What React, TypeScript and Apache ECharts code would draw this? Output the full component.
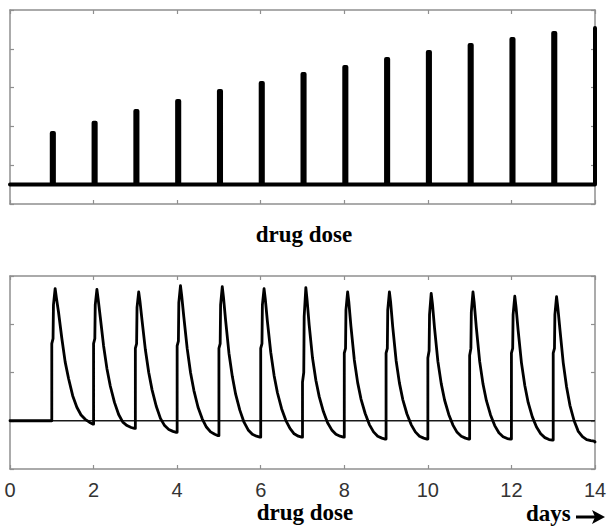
import React, { useEffect, useRef } from "react";
import * as echarts from "echarts";

// ---- data ----
const xTickLabels = ["0", "2", "4", "6", "8", "10", "12", "14"];
const spikeDays = [1, 2, 3, 4, 5, 6, 7, 8, 9, 10, 11, 12, 13, 14];
const spikeHeights = [3.66, 4.19, 4.79, 5.31, 5.82, 6.24, 6.7, 7.06, 7.47, 7.84, 8.2, 8.51, 8.81, 9.07];
const spikeBaseline = 1;

const doseDays = [1, 2, 3, 4, 5, 6, 7, 8, 9, 10, 11, 12, 13];
const cycleOffsets = [0, 0.03, 0.04, 0.08, 0.11, 0.16, 0.24, 0.32, 0.4, 0.5, 0.6, 0.7, 0.8, 0.9, 0.98];
const cycle1 = [1.6, 1.7, 2.4, 2.74, 2.55, 2.26, 1.71, 1.22, 0.88, 0.52, 0.28, 0.12, 0.03, -0.03, -0.07];
const cycle2 = [1.6, 1.7, 2.4, 2.72, 2.52, 2.15, 1.55, 1.08, 0.72, 0.38, 0.13, -0.03, -0.1, -0.14, -0.16];
const cycle3 = [1.5, 1.6, 2.35, 2.67, 2.48, 2.08, 1.47, 1.0, 0.64, 0.3, 0.05, -0.1, -0.18, -0.22, -0.24];
const cycle4 = [1.55, 1.65, 2.45, 2.8, 2.58, 2.15, 1.5, 1.0, 0.63, 0.28, 0.04, -0.13, -0.23, -0.28, -0.31];
const cycle5 = [1.5, 1.6, 2.4, 2.78, 2.55, 2.08, 1.4, 0.92, 0.55, 0.22, -0.03, -0.19, -0.28, -0.32, -0.34];
const cycle6 = [1.5, 1.6, 2.4, 2.74, 2.52, 2.06, 1.42, 0.94, 0.58, 0.25, 0.01, -0.16, -0.27, -0.32, -0.34];
const cycle7 = [0.8, 1.0, 2.16, 2.76, 2.5, 1.98, 1.3, 0.84, 0.5, 0.19, -0.04, -0.19, -0.28, -0.32, -0.34];
const cycle8 = [1.4, 1.5, 2.3, 2.67, 2.45, 1.95, 1.26, 0.79, 0.45, 0.15, -0.08, -0.23, -0.32, -0.36, -0.38];
const cycle9 = [1.4, 1.5, 2.3, 2.67, 2.45, 1.94, 1.25, 0.78, 0.44, 0.14, -0.08, -0.23, -0.32, -0.36, -0.38];
const cycle10 = [1.3, 1.45, 2.2, 2.64, 2.42, 1.92, 1.23, 0.77, 0.43, 0.13, -0.09, -0.24, -0.32, -0.36, -0.38];
const cycle11 = [1.35, 1.5, 2.25, 2.67, 2.44, 1.93, 1.23, 0.76, 0.42, 0.12, -0.1, -0.25, -0.33, -0.37, -0.38];
const cycle12 = [1.4, 1.5, 2.2, 2.58, 2.36, 1.88, 1.2, 0.73, 0.38, 0.08, -0.13, -0.27, -0.35, -0.39, -0.4];
const cycle13 = [1.4, 1.5, 2.2, 2.57, 2.35, 1.9, 1.2, 0.7, 0.32, 0.0, -0.22, -0.33, -0.39, -0.41, -0.42];
const cycles = [cycle1, cycle2, cycle3, cycle4, cycle5, cycle6, cycle7, cycle8, cycle9, cycle10, cycle11, cycle12, cycle13];
const curveStart = 0;
const curveEnd = -0.44;

function buildSpikes() {
  const w = 0.05;
  const pts: number[][] = [[0, spikeBaseline]];
  spikeDays.forEach((d, i) => {
    const h = spikeHeights[i];
    pts.push([d, spikeBaseline], [d, h]);
    if (d < 14) {
      pts.push([d + w, h], [d + w, spikeBaseline]);
    }
  });
  return pts;
}

function buildCurve() {
  const pts: number[][] = [[0, curveStart]];
  let last = curveStart;
  doseDays.forEach((d, i) => {
    pts.push([d, last]);
    const vals = cycles[i];
    cycleOffsets.forEach((o, j) => pts.push([d + o, vals[j]]));
    last = vals[vals.length - 1];
  });
  pts.push([14, curveEnd]);
  return pts;
}

const BOX = "#8f8f8f";

function xAx(grid: number, pos: "bottom" | "top", labels: boolean) {
  return {
    type: "value",
    gridIndex: grid,
    position: pos,
    min: 0,
    max: 14,
    interval: 2,
    axisLine: { show: true, onZero: false, lineStyle: { color: BOX, width: 1.5 } },
    axisTick: { show: true, inside: true, length: 4, lineStyle: { color: BOX, width: 1.2 } },
    splitLine: { show: false },
    axisLabel: {
      show: labels,
      margin: 11,
      fontSize: 20,
      color: "#333",
      fontFamily: "'Liberation Sans Narrow', 'Liberation Sans', Arial, sans-serif",
      formatter: (v: number) => xTickLabels[Math.round(v / 2)] ?? "",
    },
  };
}

function yAx(grid: number, pos: "left" | "right", min: number, max: number, interval: number) {
  return {
    type: "value",
    gridIndex: grid,
    position: pos,
    min,
    max,
    interval,
    axisLine: { show: true, onZero: false, lineStyle: { color: BOX, width: 1.5 } },
    axisTick: { show: true, inside: true, length: 4, lineStyle: { color: BOX, width: 1.2 } },
    splitLine: { show: false },
    axisLabel: { show: false },
  };
}

export default function App() {
  const ref = useRef<HTMLDivElement>(null);
  useEffect(() => {
    if (!ref.current) return;
    const chart = echarts.init(ref.current, null, { renderer: "svg" });
    const serif = "'Liberation Serif', 'Times New Roman', serif";
    chart.setOption({
      animation: false,
      backgroundColor: "#ffffff",
      grid: [
        { left: 10, right: 15, top: 10, height: 194 },
        { left: 10, right: 15, top: 276, height: 193 },
      ],
      xAxis: [xAx(0, "bottom", false), xAx(0, "top", false), xAx(1, "bottom", true), xAx(1, "top", false)],
      yAxis: [
        yAx(0, "left", 0, 10, 2),
        yAx(0, "right", 0, 10, 2),
        yAx(1, "left", -1, 3, 1),
        yAx(1, "right", -1, 3, 1),
      ],
      series: [
        {
          type: "line",
          xAxisIndex: 0,
          yAxisIndex: 0,
          data: buildSpikes(),
          showSymbol: false,
          clip: false,
          lineStyle: { color: "#000", width: 4, join: "round", cap: "round" },
        },
        {
          type: "line",
          xAxisIndex: 2,
          yAxisIndex: 2,
          data: [
            [0, 0],
            [14, 0],
          ],
          showSymbol: false,
          lineStyle: { color: "#1a1a1a", width: 1.5 },
        },
        {
          type: "line",
          xAxisIndex: 2,
          yAxisIndex: 2,
          data: buildCurve(),
          showSymbol: false,
          clip: false,
          lineStyle: { color: "#000", width: 2.8, join: "round", cap: "round" },
        },
      ],
      graphic: [
        {
          type: "text",
          x: 304,
          y: 234,
          style: {
            text: "drug dose",
            font: `bold 23px ${serif}`,
            fill: "#000",
            textAlign: "center",
            textVerticalAlign: "middle",
          },
        },
        {
          type: "text",
          x: 305,
          y: 512,
          style: {
            text: "drug dose",
            font: `bold 23px ${serif}`,
            fill: "#000",
            textAlign: "center",
            textVerticalAlign: "middle",
          },
        },
        {
          type: "text",
          x: 526,
          y: 513,
          style: {
            text: "days",
            font: `bold 23px ${serif}`,
            fill: "#000",
            textAlign: "left",
            textVerticalAlign: "middle",
          },
        },
        {
          type: "line",
          shape: { x1: 576, y1: 517, x2: 596, y2: 517 },
          style: { stroke: "#000", lineWidth: 3 },
        },
        {
          type: "polygon",
          shape: { points: [[592, 510], [605, 517], [592, 524], [595, 517]] },
          style: { fill: "#000" },
        },
      ],
    });
    return () => chart.dispose();
  }, []);
  return (
    <div
      ref={ref}
      style={{ position: "absolute", left: 0, top: 0, width: 610, height: 527, background: "#fff" }}
    />
  );
}
